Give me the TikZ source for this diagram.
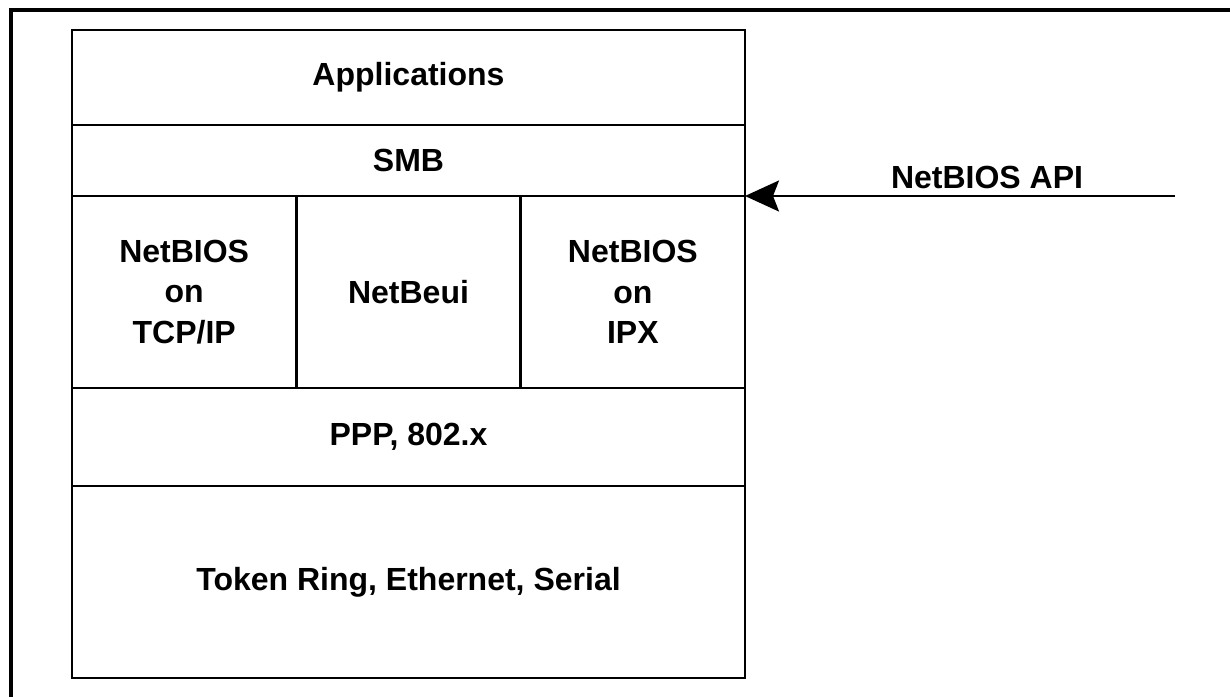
\documentclass[tikz,border=0pt]{standalone}
\usepackage{fontspec}
\setmainfont{Liberation Sans}
\usetikzlibrary{positioning,arrows.meta}

\begin{document}
\begin{tikzpicture}[x=0.5pt, y=-0.5pt, node distance=0pt,
    layer/.style={draw, line width=1.2pt, minimum width=336.5pt, outer sep=0pt,
        inner sep=0pt, align=center, font=\fontsize{16}{20.3}\selectfont\bfseries},
    stack/.style={layer, minimum width=112.17pt, minimum height=96pt}]
    \useasboundingbox (0,0) rectangle (1230,696);
    \clip (0,0) rectangle (1230,696);
    % frame, cut by the page
    \draw[line width=2.4pt] (11,720) -- (11,10) -- (1250,10);
    \node[layer, minimum height=47.5pt, anchor=north west] (app) at (72,30) {Applications};
    \node[layer, minimum height=35.5pt, below=of app] (smb) {SMB};
    \node[stack, below right=of smb.south west] (nbt) {NetBIOS\\on\\TCP/IP};
    \node[stack, right=of nbt] (beui) {NetBeui};
    \node[stack, right=of beui] (ipx) {NetBIOS\\on\\IPX};
    \node[layer, minimum height=49pt, below right=of nbt.south west] (ppp) {PPP, 802.x};
    \node[layer, minimum height=96pt, below=of ppp] (tok) {Token Ring, Ethernet, Serial};
    \coordinate (apiend) at (1175,196);
    \draw[line width=1.2pt, -{Stealth[length=17pt,width=15.5pt,inset=3pt]}] (apiend) -- (smb.south east);
    \node[font=\fontsize{16}{20.3}\selectfont\bfseries] (api) at (987,177) {NetBIOS API};
\end{tikzpicture}
\end{document}
